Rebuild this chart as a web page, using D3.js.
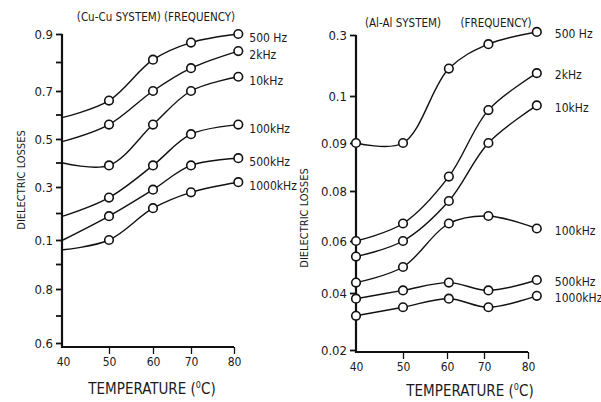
<!DOCTYPE html>
<html>
<head>
<meta charset="utf-8">
<script src="https://cdn.jsdelivr.net/npm/d3@7"></script>
<style>
body { margin: 0; background: #fff; }
text { font-family: "DejaVu Sans Condensed", "Liberation Sans Narrow", "Liberation Sans", sans-serif; fill: #1a1a1a; }
</style>
</head>
<body>
<div id="chart"></div>
<script>
var freqs = ["500 Hz", "2kHz", "10kHz", "100kHz", "500kHz", "1000kHz"];
var tempTicks = [40, 50, 60, 70, 80];

// Cu-Cu system (left panel)
var cuTemps = [40, 50, 60, 70, 81];
var cu500Hz   = [0.59, 0.66, 0.81, 0.87, 0.90];
var cu2kHz    = [0.49, 0.56, 0.70, 0.78, 0.84];
var cu10kHz   = [0.40, 0.39, 0.56, 0.70, 0.75];
var cu100kHz  = [0.19, 0.26, 0.39, 0.52, 0.56];
var cu500kHz  = [0.10, 0.19, 0.29, 0.39, 0.42];
var cu1000kHz = [0.096, 0.10, 0.22, 0.28, 0.32];
var cuTickVals   = [0.06, 0.08, 0.1, 0.3, 0.5, 0.7, 0.9];
var cuTickLabels = ["0.6", "0.8", "0.1", "0.3", "0.5", "0.7", "0.9"];

// Al-Al system (right panel)
var alTemps = [40, 50, 60.5, 71, 82];
var al500Hz   = [0.090, 0.090, 0.19, 0.27, 0.31];
var al2kHz    = [0.060, 0.067, 0.083, 0.097, 0.175];
var al10kHz   = [0.054, 0.060, 0.076, 0.090, 0.098];
var al100kHz  = [0.044, 0.050, 0.067, 0.070, 0.065];
var al500kHz  = [0.038, 0.041, 0.044, 0.041, 0.045];
var al1000kHz = [0.032, 0.035, 0.038, 0.035, 0.039];
var alTickVals   = [0.02, 0.04, 0.06, 0.08, 0.09, 0.1, 0.3];
var alTickLabels = ["0.02", "0.04", "0.06", "0.08", "0.09", "0.1", "0.3"];

var width = 601, height = 402;

var svg = d3.select("#chart").append("svg")
    .attr("width", width)
    .attr("height", height);

var panels = [
  {
    temps: cuTemps,
    series: [cu500Hz, cu2kHz, cu10kHz, cu100kHz, cu500kHz, cu1000kHz],
    tickVals: cuTickVals, tickLabels: cuTickLabels,
    xRange: [63, 109, 153, 191, 234],
    yRange: [343, 289, 240, 187, 139, 91, 34],
    axisX: 62, axisY: 347,
    firstMarker: false, minor: true,
    labelDx: 11, labelDy: 4,
    titles: [{t: "(Cu-Cu  SYSTEM) (FREQUENCY)", x: 156, y: 21}],
    yTitle: {x: 25, y: 180},
    xTitle: {x: 152, y: 394}
  },
  {
    temps: alTemps,
    series: [al500Hz, al2kHz, al10kHz, al100kHz, al500kHz, al1000kHz],
    tickVals: alTickVals, tickLabels: alTickLabels,
    xRange: [356, 403, 447, 484, 528],
    yRange: [350, 293, 241, 191, 143, 96, 35],
    axisX: 356, axisY: 352,
    firstMarker: true, minor: false,
    labelDx: 18, labelDy: 2,
    titles: [{t: "(Al-Al SYSTEM)", x: 403, y: 27}, {t: "(FREQUENCY)", x: 496, y: 27}],
    yTitle: {x: 308, y: 218},
    xTitle: {x: 470, y: 396}
  }
];

panels.forEach(function (p) {
  var x = d3.scaleLinear().domain(tempTicks).range(p.xRange);
  var y = d3.scaleLinear().domain(p.tickVals).range(p.yRange);
  var g = svg.append("g");

  // y axis
  var yAxis = d3.axisLeft(y)
      .tickValues(p.tickVals)
      .tickFormat(function (d, i) { return p.tickLabels[i]; })
      .tickSize(6)
      .tickPadding(3);
  var ya = g.append("g")
      .attr("transform", "translate(" + p.axisX + ",0)")
      .call(yAxis);
  ya.select(".domain").remove();
  ya.selectAll("line").attr("stroke", "#111").attr("stroke-width", 1.8);
  ya.selectAll("text").style("font-size", "13px");

  if (p.minor) {
    var mids = d3.pairs(p.tickVals).map(function (d) { return (y(d[0]) + y(d[1])) / 2; });
    g.selectAll(".minor").data(mids).enter().append("line")
        .attr("x1", p.axisX - 6).attr("x2", p.axisX)
        .attr("y1", function (d) { return d; }).attr("y2", function (d) { return d; })
        .attr("stroke", "#111").attr("stroke-width", 1.8);
  }

  // x axis
  var xAxis = d3.axisBottom(x).tickValues(tempTicks).tickSize(7).tickPadding(3);
  var xa = g.append("g")
      .attr("transform", "translate(0," + p.axisY + ")")
      .call(xAxis);
  xa.select(".domain").remove();
  xa.selectAll("line").attr("stroke", "#111").attr("stroke-width", 1.3);
  xa.selectAll(".tick").filter(function (d) { return d === 40; }).select("line").remove();
  xa.selectAll("text").style("font-size", "12px");

  // axis lines
  g.append("path")
      .attr("d", "M" + p.axisX + "," + y(d3.max(p.tickVals)) + "V" + p.axisY + "H" + x(80))
      .attr("fill", "none").attr("stroke", "#111").attr("stroke-width", 2.2);

  // curves
  var line = d3.line()
      .x(function (d, i) { return x(p.temps[i]); })
      .y(function (d) { return y(d); })
      .curve(d3.curveCatmullRom.alpha(0.5));

  p.series.forEach(function (s, k) {
    g.append("path").datum(s)
        .attr("d", line)
        .attr("fill", "none").attr("stroke", "#111").attr("stroke-width", 1.4);

    var pts = s.map(function (v, i) { return {t: p.temps[i], v: v, i: i}; })
        .filter(function (d) { return p.firstMarker || d.i > 0; });
    g.selectAll(null).data(pts).enter().append("circle")
        .attr("cx", function (d) { return x(d.t); })
        .attr("cy", function (d) { return y(d.v); })
        .attr("r", 4.3)
        .attr("fill", "#fff").attr("stroke", "#111").attr("stroke-width", 1.6);

    var last = s.length - 1;
    g.append("text")
        .attr("x", x(p.temps[last]) + p.labelDx)
        .attr("y", y(s[last]) + p.labelDy)
        .attr("dy", "0.35em")
        .style("font-size", "12px")
        .text(freqs[k]);
  });

  p.titles.forEach(function (t) {
    g.append("text").attr("x", t.x).attr("y", t.y)
        .attr("text-anchor", "middle").style("font-size", "11.5px").text(t.t);
  });

  g.append("text")
      .attr("transform", "translate(" + p.yTitle.x + "," + p.yTitle.y + ") rotate(-90)")
      .attr("text-anchor", "middle").style("font-size", "11px")
      .text("DIELECTRIC LOSSES");

  var xt = g.append("text")
      .attr("x", p.xTitle.x).attr("y", p.xTitle.y)
      .attr("text-anchor", "middle").style("font-size", "15px");
  xt.append("tspan").text("TEMPERATURE (");
  xt.append("tspan").attr("dy", -6).style("font-size", "9px").text("0");
  xt.append("tspan").attr("dy", 6).text("C)");
});
</script>
</body>
</html>
